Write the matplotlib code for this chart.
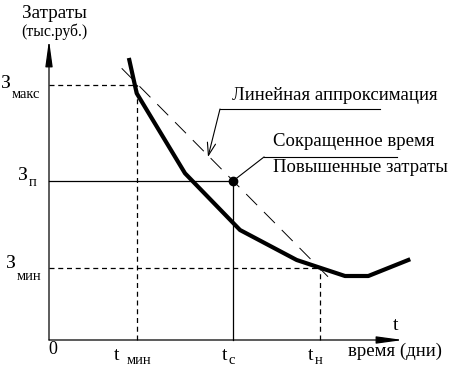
import matplotlib
matplotlib.use("Agg")
import matplotlib.pyplot as plt

plt.rcParams['font.family'] = ['Liberation Serif', 'DejaVu Serif']

# Cost curve (time in days, cost in thousand rub.) - arbitrary units
curve_t = [8.03, 8.77, 13.6, 19.1, 24.77, 27.27, 29.6, 31.93, 35.93]
curve_cost = [28.0, 24.67, 16.67, 11.0, 8.0, 7.17, 6.4, 6.4, 8.0]

# Linear approximation endpoints
approx_t = [7.27, 27.9]
approx_cost = [27.17, 6.33]

# Key levels
t_min, t_c, t_n = 8.8, 18.4, 27.1
cost_max, cost_p, cost_min = 25.5, 15.9, 7.2

fig = plt.figure(figsize=(4.69, 3.70), dpi=100)
ax = fig.add_axes([0, 0, 1, 1])
ax.set_xlim(-4.9, 42.0)
ax.set_ylim(-3.0, 34.0)
ax.axis('off')

# Axes with arrows
arrow = dict(arrowstyle='-|>,head_length=1.6,head_width=0.22',
             mutation_scale=10, color='black', lw=0.9, shrinkA=0, shrinkB=0)
ax.annotate('', xy=(0, 30.0), xytext=(0, 0), arrowprops=arrow)
ax.annotate('', xy=(35.4, 0), xytext=(0, 0), arrowprops=arrow)

# Guide lines
dash = (0, (4, 3))
ax.plot([0, t_min], [cost_max, cost_max], color='black', lw=0.9, ls=dash)
ax.plot([t_min, t_min], [0, cost_max], color='black', lw=0.9, ls=dash)
ax.plot([0, t_n], [cost_min, cost_min], color='black', lw=0.9, ls=dash)
ax.plot([t_n, t_n], [0, cost_min], color='black', lw=0.9, ls=dash)
ax.plot([0, t_c], [cost_p, cost_p], color='black', lw=0.9)
ax.plot([t_c, t_c], [0, cost_p], color='black', lw=0.9)

# Linear approximation (long dashes)
ax.plot(approx_t, approx_cost, color='black', lw=0.7, ls=(0, (16, 10)))

# Cost curve
ax.plot(curve_t, curve_cost, color='black', lw=3.0, solid_joinstyle='round')

# Shortened time point
ax.plot([t_c], [cost_p], 'o', color='black', markersize=6)

# Annotation: linear approximation
ax.plot([17.1, 33.1], [23.1, 23.1], color='black', lw=0.8)
ax.annotate('', xy=(15.9, 18.3), xytext=(17.1, 23.1),
            arrowprops=dict(arrowstyle='->,head_length=0.9,head_width=0.3',
                            mutation_scale=10, color='black', lw=0.8,
                            shrinkA=0, shrinkB=0))
ax.text(18.3, 24.5, 'Линейная аппроксимация', fontsize=13.5, va='center', ha='left')

# Annotation: shortened time / increased cost
ax.plot([21.5, 34.8], [18.3, 18.3], color='black', lw=0.8)
ax.plot([21.5, t_c], [18.3, cost_p], color='black', lw=0.8)
ax.text(22.4, 19.9, 'Сокращенное время', fontsize=13.5, va='center', ha='left')
ax.text(22.4, 17.2, 'Повышенные затраты', fontsize=13.5, va='center', ha='left')

# Y axis title
ax.text(0.55, 32.6, 'Затраты', fontsize=13.8, ha='center', va='center')
ax.text(0.55, 30.8, '(тыс.руб.)', fontsize=11.3, ha='center', va='center')

# Y labels
ax.text(-4.85, cost_max + 0.2, 'З', fontsize=14, ha='left', va='center')
ax.text(-3.7, cost_max - 1.0, 'макс', fontsize=10.5, ha='left', va='center')
ax.text(-3.1, cost_p + 0.6, 'З', fontsize=14, ha='left', va='center')
ax.text(-2.0, cost_p - 0.1, 'п', fontsize=10.5, ha='left', va='center')
ax.text(-4.3, cost_min + 0.4, 'З', fontsize=14, ha='left', va='center')
ax.text(-3.2, cost_min - 0.8, 'мин', fontsize=10.5, ha='left', va='center')

# X labels
ax.text(0.4, -0.9, '0', fontsize=13, ha='center', va='center')
ax.text(t_min - 2.3, -1.5, 't', fontsize=14, ha='left', va='center')
ax.text(t_min - 1.0, -2.0, 'мин', fontsize=10.5, ha='left', va='center')
ax.text(t_c - 1.1, -1.5, 't', fontsize=14, ha='left', va='center')
ax.text(t_c - 0.5, -2.0, 'с', fontsize=10.5, ha='left', va='center')
ax.text(t_n - 1.2, -1.5, 't', fontsize=14, ha='left', va='center')
ax.text(t_n - 0.5, -2.0, 'н', fontsize=10.5, ha='left', va='center')
ax.text(34.4, 1.4, 't', fontsize=14, ha='left', va='center')
ax.text(29.9, -1.1, 'время (дни)', fontsize=13.5, ha='left', va='center')

fig.savefig('out.png', dpi=100)
